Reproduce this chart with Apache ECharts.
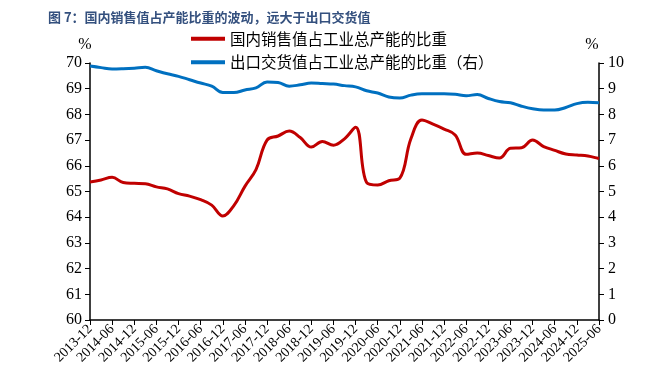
<!DOCTYPE html>
<html>
<head>
<meta charset="utf-8">
<script src="https://cdn.jsdelivr.net/npm/echarts@6/dist/echarts.min.js"></script>
<style>
  html, body { margin: 0; padding: 0; background: #fff; }
  #chart { width: 651px; height: 382px; }
</style>
</head>
<body>
<div id="chart"></div>
<script>
// 季度数据，2013-12 ~ 2025-06
var quarters = [
  '2013-12', '2014-03', '2014-06', '2014-09', '2014-12', '2015-03', '2015-06', '2015-09',
  '2015-12', '2016-03', '2016-06', '2016-09', '2016-12', '2017-03', '2017-06', '2017-09',
  '2017-12', '2018-03', '2018-06', '2018-09', '2018-12', '2019-03', '2019-06', '2019-09',
  '2019-12', '2020-03', '2020-06', '2020-09', '2020-12', '2021-03', '2021-06', '2021-09',
  '2021-12', '2022-03', '2022-06', '2022-09', '2022-12', '2023-03', '2023-06', '2023-09',
  '2023-12', '2024-03', '2024-06', '2024-09', '2024-12', '2025-03', '2025-06'
];

// 国内销售值占工业总产能的比重（左轴）
var domesticShare = [
  65.37, 65.45, 65.55, 65.35, 65.32, 65.30, 65.18, 65.10,
  64.92, 64.82, 64.68, 64.47, 64.05, 64.45, 65.20, 65.85,
  67.00, 67.16, 67.35, 67.10, 66.73, 66.95, 66.80, 67.05,
  67.50, 65.35, 65.25, 65.42, 65.52, 67.05, 67.78, 67.62,
  67.43, 67.20, 66.45, 66.50, 66.40, 66.30, 66.68, 66.70,
  67.00, 66.75, 66.60, 66.46, 66.42, 66.38, 66.28
];

// 出口交货值占工业总产能的比重（右轴）
var exportShare = [
  9.88, 9.82, 9.77, 9.78, 9.80, 9.83, 9.70, 9.58,
  9.48, 9.35, 9.22, 9.10, 8.85, 8.85, 8.95, 9.03,
  9.26, 9.24, 9.10, 9.15, 9.22, 9.20, 9.18, 9.12,
  9.07, 8.92, 8.83, 8.68, 8.64, 8.75, 8.80, 8.80,
  8.80, 8.78, 8.73, 8.77, 8.62, 8.50, 8.45, 8.32,
  8.22, 8.17, 8.17, 8.27, 8.42, 8.47, 8.45
];

var serif = '"Liberation Serif", "Times New Roman", serif';
var cjk = '"Noto Sans CJK SC", sans-serif';

var chart = echarts.init(document.getElementById('chart'));

var option = {
  animation: false,
  title: {
    text: '图 7：国内销售值占产能比重的波动，远大于出口交货值',
    left: 43,
    top: 6,
    textStyle: { fontFamily: cjk, fontSize: 13, fontWeight: 'bold', color: '#34507e' }
  },
  legend: {
    orient: 'vertical',
    left: 186,
    top: 26,
    itemWidth: 34,
    itemHeight: 4,
    itemGap: 8,
    icon: 'rect',
    textStyle: { fontFamily: cjk, fontSize: 15.5, color: '#000' },
    data: ['国内销售值占工业总产能的比重', '出口交货值占工业总产能的比重（右）']
  },
  grid: { left: 90, right: 52, top: 63, bottom: 62 },
  xAxis: {
    type: 'category',
    data: quarters,
    boundaryGap: false,
    axisLine: { lineStyle: { color: '#000', width: 1.5 } },
    axisTick: { interval: 1, length: 5, lineStyle: { color: '#000' } },
    axisLabel: {
      interval: 1,
      rotate: 45,
      margin: 7,
      fontFamily: serif,
      fontSize: 14,
      color: '#000'
    },
    splitLine: { show: false }
  },
  yAxis: [
    {
      type: 'value',
      min: 60,
      max: 70,
      interval: 1,
      name: '%',
      nameLocation: 'end',
      nameGap: 10,
      nameTextStyle: { fontFamily: serif, fontSize: 16, color: '#000', padding: [0, 10, 0, 0] },
      axisLine: { show: true, lineStyle: { color: '#000', width: 1.5 } },
      axisTick: { show: true, length: 5, lineStyle: { color: '#000' } },
      axisLabel: { fontFamily: serif, fontSize: 16, color: '#000', margin: 8 },
      splitLine: { show: false }
    },
    {
      type: 'value',
      min: 0,
      max: 10,
      interval: 1,
      name: '%',
      nameLocation: 'end',
      nameGap: 10,
      nameTextStyle: { fontFamily: serif, fontSize: 16, color: '#000', padding: [0, 14, 0, 0] },
      axisLine: { show: true, lineStyle: { color: '#000', width: 1.5 } },
      axisTick: { show: true, length: 5, lineStyle: { color: '#000' } },
      axisLabel: { fontFamily: serif, fontSize: 16, color: '#000', margin: 9 },
      splitLine: { show: false }
    }
  ],
  series: [
    {
      name: '国内销售值占工业总产能的比重',
      type: 'line',
      data: domesticShare,
      yAxisIndex: 0,
      smooth: 0.4,
      symbol: 'none',
      lineStyle: { color: '#c00000', width: 3 },
      itemStyle: { color: '#c00000' }
    },
    {
      name: '出口交货值占工业总产能的比重（右）',
      type: 'line',
      data: exportShare,
      yAxisIndex: 1,
      smooth: 0.4,
      symbol: 'none',
      lineStyle: { color: '#0070c0', width: 3 },
      itemStyle: { color: '#0070c0' }
    }
  ]
};

chart.setOption(option);
</script>
</body>
</html>
